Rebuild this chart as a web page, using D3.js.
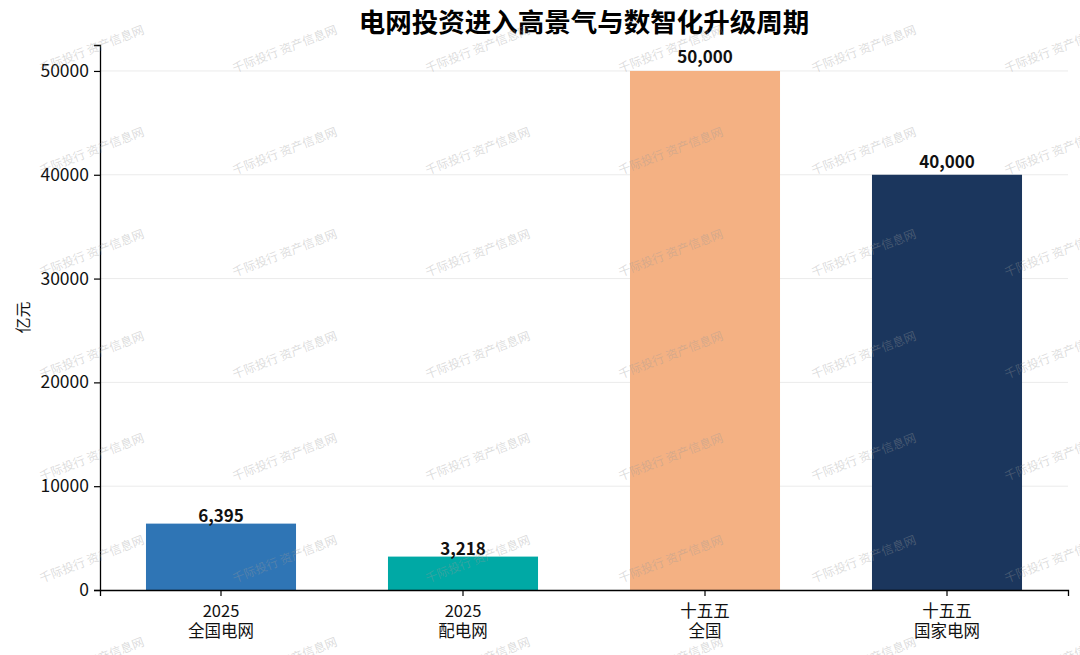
<!DOCTYPE html>
<html>
<head>
<meta charset="utf-8">
<script src="https://cdn.jsdelivr.net/npm/d3@7"></script>
<style>
  body { margin: 0; background: #fff; }
  svg, svg text { font-family: "Noto Sans CJK SC", "Noto Sans", sans-serif; }
</style>
</head>
<body>
<div class="chart-container"></div>
<script>
// chart data
const categories = ['2025\n全国电网', '2025\n配电网', '十五五\n全国', '十五五\n国家电网'];
const values = [6395, 3218, 50000, 40000];
const bar_colors = ['#2f75b5', '#00a9a5', '#f4b183', '#1b365d'];
const y_ticks = [0, 10000, 20000, 30000, 40000, 50000];

const title_text = '电网投资进入高景气与数智化升级周期';
const y_label = '亿元';
const watermark_text = '千际投行 资产信息网';

// frame measurements
const total_width = 1080;
const total_height = 655;
const margin = {top: 45, bottom: 65, left: 100, right: 12};
const width = total_width - margin.left - margin.right;
const height = total_height - margin.top - margin.bottom;
const font = '"Noto Sans CJK SC", "Noto Sans", sans-serif';

const svg = d3.select('.chart-container')
   .append('svg')
   .attr('width', total_width)
   .attr('height', total_height);

const chart = svg.append('g')
   .attr('transform', `translate(${margin.left}, ${margin.top})`);

const x_scale = d3.scaleBand()
   .domain(categories)
   .range([0, width])
   .paddingInner(0.38)
   .paddingOuter(0.19);

const y_scale = d3.scaleLinear()
   .domain([0, 52500])
   .range([height, 0]);

// grid lines
chart.append('g')
   .attr('class', 'grid')
   .selectAll('line')
   .data(y_ticks.filter(d => d > 0))
   .join('line')
   .attr('x1', 0)
   .attr('x2', width)
   .attr('y1', d => y_scale(d))
   .attr('y2', d => y_scale(d))
   .attr('stroke', '#ebebeb')
   .attr('stroke-width', 1);

// bars
chart.append('g')
   .attr('class', 'bars')
   .selectAll('rect')
   .data(values)
   .join('rect')
   .attr('x', (d, i) => x_scale(categories[i]))
   .attr('y', d => y_scale(d))
   .attr('width', x_scale.bandwidth())
   .attr('height', d => height - y_scale(d))
   .attr('fill', (d, i) => bar_colors[i]);

// value labels, sitting just above each bar (offset grows a little with the value)
chart.append('g')
   .attr('class', 'labels')
   .selectAll('text')
   .data(values)
   .join('text')
   .attr('x', (d, i) => x_scale(categories[i]) + x_scale.bandwidth() / 2)
   .attr('y', d => y_scale(d * 1.014) - 1)
   .attr('text-anchor', 'middle')
   .attr('font-size', 17)
   .attr('font-weight', 'bold')
   .attr('fill', '#111')
   .text(d => d3.format(',')(d));

// y axis
const y_axis = chart.append('g')
   .attr('class', 'y axis')
   .call(d3.axisLeft(y_scale).tickValues(y_ticks).tickFormat(d3.format('d')).tickSizeOuter(0).tickSize(6));
y_axis.attr('font-family', font).attr('font-size', 17.5);
y_axis.select('.domain').attr('stroke', '#000').attr('stroke-width', 1.3);
y_axis.selectAll('.tick line').attr('stroke', '#000').attr('stroke-width', 1.2);
y_axis.selectAll('.tick text').attr('fill', '#111').attr('dx', -2);

// x axis
const x_axis = chart.append('g')
   .attr('class', 'x axis')
   .attr('transform', `translate(0, ${height})`)
   .call(d3.axisBottom(x_scale).tickSizeOuter(0).tickSize(6));
x_axis.attr('font-family', font).attr('font-size', 16.5);
x_axis.select('.domain').attr('stroke', '#000').attr('stroke-width', 1.3);
x_axis.selectAll('.tick line').attr('stroke', '#000').attr('stroke-width', 1.2);
x_axis.selectAll('.tick text').remove();
x_axis.selectAll('.tick')
   .append('text')
   .attr('text-anchor', 'middle')
   .attr('fill', '#111')
   .selectAll('tspan')
   .data(d => d.split('\n'))
   .join('tspan')
   .attr('x', 0)
   .attr('y', (d, i) => 27 + i * 20)
   .text(d => d);

// y label
svg.append('text')
   .attr('transform', `translate(29, ${margin.top + height / 2}) rotate(-90)`)
   .attr('text-anchor', 'middle')
   .attr('font-size', 16)
   .attr('fill', '#111')
   .text(y_label);

// title
svg.append('text')
   .attr('x', margin.left + width / 2)
   .attr('y', 32)
   .attr('text-anchor', 'middle')
   .attr('font-size', 26.5)
   .attr('font-weight', 'bold')
   .attr('fill', '#000')
   .text(title_text);

// watermark grid
const wm_cols = d3.range(6).map(i => 92 + i * 193);
const wm_rows = d3.range(7).map(i => 50 + i * 102);
const wm_points = wm_rows.flatMap(y => wm_cols.map(x => ({x, y})));
svg.append('g')
   .attr('class', 'watermark')
   .attr('pointer-events', 'none')
   .selectAll('text')
   .data(wm_points)
   .join('text')
   .attr('transform', d => `translate(${d.x}, ${d.y}) rotate(-21)`)
   .attr('text-anchor', 'middle')
   .attr('dominant-baseline', 'middle')
   .attr('font-size', 12)
   .attr('fill', '#9a9a9a')
   .attr('fill-opacity', 0.35)
   .text(watermark_text);
</script>
</body>
</html>
